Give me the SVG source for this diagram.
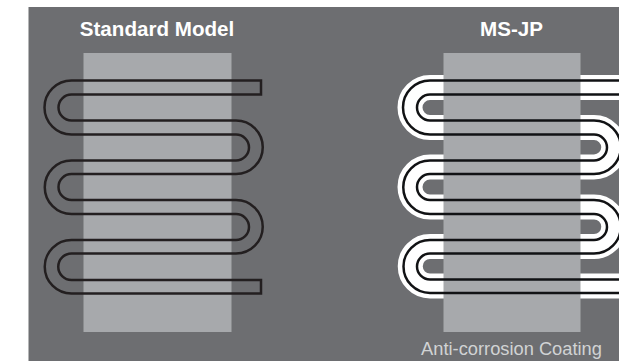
<svg xmlns="http://www.w3.org/2000/svg" width="619" height="361" viewBox="0 0 619 361">
<style>
.panel{fill:#a7a9ac}
.tube{fill:none;stroke:#231f20;stroke-width:2.5}
.tube2{fill:none;stroke:#111214;stroke-width:2.5}
.coat{fill:none;stroke:#fff;stroke-width:25}
.head{font-family:"Liberation Sans",Arial,sans-serif;font-weight:700;font-size:20.6px;fill:#fff;text-anchor:middle}
.note{font-family:"Liberation Sans",Arial,sans-serif;font-size:18.300px;fill:#d1d3d4;text-anchor:middle}
</style>
<rect x="28.500" y="7" width="590.500" height="354" fill="#6d6e71"/>
<g id="standard-model">
<rect class="panel" x="83.500" y="53" width="148" height="279"/>
<path class="tube" d="M261 80.500H71.500A27 27 0 0 0 71.500 134.500H236A13 13 0 0 1 236 160.500H71.500A26.750 26.750 0 0 0 71.500 214H236A13 13 0 0 1 236 240H71.500A26.750 26.750 0 0 0 71.500 293.500H261V280H71.500A13.250 13.250 0 0 1 71.500 253.500H236A26.750 26.750 0 0 0 236 200H71.500A13 13 0 0 1 71.500 174H236A26.750 26.750 0 0 0 236 120.500H71.500A13 13 0 0 1 71.500 94.500H261Z"/>
<text class="head" x="157" y="36">Standard Model</text>
</g>
<g id="ms-jp">
<path class="coat" d="M619 87.500H430A20 20 0 0 0 430 127.500H594A19.750 19.750 0 0 1 594 167H430A20 20 0 0 0 430 207H594A19.750 19.750 0 0 1 594 246.500H430A19.750 19.750 0 0 0 430 286H619"/>
<rect class="panel" x="443.500" y="53" width="137" height="279"/>
<path class="tube2" d="M619 80.500H430A27 27 0 0 0 430 134.500H594A13 13 0 0 1 594 160.500H430A26.750 26.750 0 0 0 430 214H594A13 13 0 0 1 594 240H430A26.500 26.500 0 0 0 430 293H619M619 279.500H430A13 13 0 0 1 430 253.500H594A26.750 26.750 0 0 0 594 200H430A13 13 0 0 1 430 174H594A26.750 26.750 0 0 0 594 120.500H430A13 13 0 0 1 430 94.500H619"/>
<text class="head" x="511.500" y="36">MS-JP</text>
<text class="note" x="511.500" y="355">Anti-corrosion Coating</text>
</g>
</svg>
